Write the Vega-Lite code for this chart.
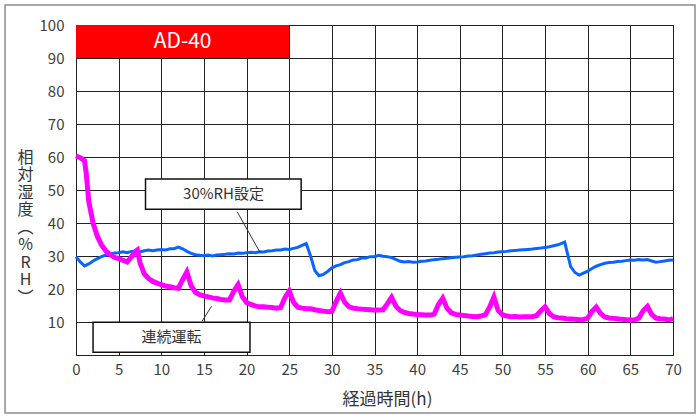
{
"$schema": "https://vega.github.io/schema/vega-lite/v6.json",
"width": 597, "height": 330,
"autosize": {"type": "none"},
"padding": {"left": 76, "top": 25, "right": 27, "bottom": 64},
"background": "white",
"config": {"view": {"stroke": "#222", "strokeWidth": 1}, "font": "Noto Sans CJK JP", "axis": {"labelOverlap": false, "labelFlush": false}},
"datasets": {
"blue": [
{"t":0,"v":29.8},{"t":0.5,"v":28.2},{"t":1,"v":27.0},{"t":1.5,"v":27.6},{"t":2,"v":28.5},{"t":2.5,"v":29.2},{"t":3,"v":29.8},{"t":3.5,"v":30.3},{"t":4,"v":30.6},{"t":4.5,"v":30.9},
{"t":5,"v":31.0},{"t":5.5,"v":31.3},{"t":6,"v":31.0},{"t":6.5,"v":31.4},{"t":7,"v":31.5},{"t":7.5,"v":31.2},{"t":8,"v":31.6},{"t":8.5,"v":31.8},{"t":9,"v":31.6},{"t":9.5,"v":31.8},
{"t":10,"v":32.0},{"t":10.5,"v":31.8},{"t":11,"v":32.2},{"t":11.5,"v":32.2},{"t":12,"v":32.7},{"t":12.5,"v":32.2},{"t":13,"v":31.4},{"t":13.5,"v":30.8},{"t":14,"v":30.4},{"t":14.5,"v":30.2},
{"t":15,"v":30.1},{"t":15.5,"v":30.3},{"t":16,"v":30.0},{"t":16.5,"v":30.3},{"t":17,"v":30.4},{"t":17.5,"v":30.5},{"t":18,"v":30.7},{"t":18.5,"v":30.6},{"t":19,"v":30.9},{"t":19.5,"v":30.8},
{"t":20,"v":31.0},{"t":20.5,"v":31.1},{"t":21,"v":31.0},{"t":21.5,"v":31.3},{"t":22,"v":31.2},{"t":22.5,"v":31.5},{"t":23,"v":31.6},{"t":23.5,"v":31.8},{"t":24,"v":31.8},{"t":24.5,"v":32.1},
{"t":25,"v":32.0},{"t":25.5,"v":32.3},{"t":26,"v":32.6},{"t":26.5,"v":33.2},{"t":27,"v":33.8},{"t":27.5,"v":30.0},{"t":28,"v":25.6},{"t":28.5,"v":24.0},{"t":29,"v":24.4},{"t":29.5,"v":25.3},
{"t":30,"v":26.4},{"t":30.5,"v":27.0},{"t":31,"v":27.4},{"t":31.5,"v":28.0},{"t":32,"v":28.3},{"t":32.5,"v":28.8},{"t":33,"v":28.9},{"t":33.5,"v":29.4},{"t":34,"v":29.4},{"t":34.5,"v":29.8},
{"t":35,"v":29.8},{"t":35.5,"v":30.2},{"t":36,"v":29.9},{"t":36.5,"v":29.8},{"t":37,"v":29.5},{"t":37.5,"v":29.0},{"t":38,"v":28.4},{"t":38.5,"v":28.2},{"t":39,"v":28.3},{"t":39.5,"v":28.1},
{"t":40,"v":28.2},{"t":40.5,"v":28.4},{"t":41,"v":28.5},{"t":41.5,"v":28.7},{"t":42,"v":28.9},{"t":42.5,"v":29.0},{"t":43,"v":29.2},{"t":43.5,"v":29.3},{"t":44,"v":29.5},{"t":44.5,"v":29.6},
{"t":45,"v":29.7},{"t":45.5,"v":29.8},{"t":46,"v":30.0},{"t":46.5,"v":30.1},{"t":47,"v":30.3},{"t":47.5,"v":30.5},{"t":48,"v":30.7},{"t":48.5,"v":30.9},{"t":49,"v":31.0},{"t":49.5,"v":31.2},
{"t":50,"v":31.3},{"t":50.5,"v":31.4},{"t":51,"v":31.6},{"t":51.5,"v":31.7},{"t":52,"v":31.8},{"t":52.5,"v":31.9},{"t":53,"v":32.0},{"t":53.5,"v":32.1},{"t":54,"v":32.3},{"t":54.5,"v":32.4},
{"t":55,"v":32.6},{"t":55.5,"v":32.8},{"t":56,"v":33.1},{"t":56.5,"v":33.4},{"t":57,"v":33.9},{"t":57.3,"v":34.2},{"t":57.6,"v":31.0},{"t":58,"v":26.8},{"t":58.5,"v":25.0},{"t":59,"v":24.2},
{"t":59.5,"v":24.8},{"t":60,"v":25.4},{"t":60.5,"v":26.2},{"t":61,"v":26.9},{"t":61.5,"v":27.4},{"t":62,"v":27.8},{"t":62.5,"v":28.0},{"t":63,"v":28.1},{"t":63.5,"v":28.3},{"t":64,"v":28.4},
{"t":64.5,"v":28.6},{"t":65,"v":28.8},{"t":65.5,"v":28.7},{"t":66,"v":28.9},{"t":66.5,"v":28.8},{"t":67,"v":28.9},{"t":67.5,"v":28.5},{"t":68,"v":28.1},{"t":68.5,"v":28.3},{"t":69,"v":28.5},
{"t":69.5,"v":28.7},{"t":70,"v":28.8}
],
"mag": [
{"t":0,"v":60.3},{"t":0.5,"v":59.8},{"t":1,"v":58.9},{"t":1.2,"v":55.0},{"t":1.5,"v":46.5},{"t":2,"v":40.0},{"t":2.5,"v":36.0},{"t":3,"v":33.3},{"t":3.5,"v":31.6},{"t":4,"v":30.4},
{"t":4.5,"v":29.6},{"t":5,"v":29.2},{"t":5.5,"v":28.7},{"t":6,"v":28.2},{"t":6.5,"v":29.7},{"t":7,"v":31.4},{"t":7.2,"v":31.8},{"t":7.5,"v":28.0},{"t":8,"v":24.6},{"t":8.5,"v":23.2},
{"t":9,"v":22.3},{"t":9.5,"v":21.8},{"t":10,"v":21.3},{"t":10.5,"v":20.9},{"t":11,"v":20.7},{"t":11.5,"v":20.4},{"t":12,"v":20.2},{"t":12.5,"v":22.8},{"t":13,"v":25.2},{"t":13.5,"v":21.0},
{"t":14,"v":19.0},{"t":14.5,"v":18.3},{"t":15,"v":17.9},{"t":15.5,"v":17.6},{"t":16,"v":17.3},{"t":16.5,"v":17.1},{"t":17,"v":16.8},{"t":17.5,"v":16.7},{"t":18,"v":16.7},{"t":18.5,"v":19.3},
{"t":19,"v":21.3},{"t":19.5,"v":17.7},{"t":20,"v":15.9},{"t":20.5,"v":15.3},{"t":21,"v":14.9},{"t":21.5,"v":14.6},{"t":22,"v":14.6},{"t":22.5,"v":14.5},{"t":23,"v":14.4},{"t":23.5,"v":14.2},
{"t":24,"v":14.4},{"t":24.5,"v":17.4},{"t":25,"v":19.4},{"t":25.5,"v":16.0},{"t":26,"v":14.5},{"t":26.5,"v":14.2},{"t":27,"v":14.0},{"t":27.5,"v":14.0},{"t":28,"v":13.7},{"t":28.5,"v":13.5},
{"t":29,"v":13.3},{"t":29.5,"v":13.1},{"t":30,"v":13.2},{"t":30.5,"v":16.2},{"t":31,"v":18.8},{"t":31.5,"v":16.0},{"t":32,"v":14.6},{"t":32.5,"v":14.2},{"t":33,"v":14.0},{"t":33.5,"v":13.9},
{"t":34,"v":13.8},{"t":34.5,"v":13.7},{"t":35,"v":13.6},{"t":35.5,"v":13.6},{"t":36,"v":13.7},{"t":36.5,"v":15.5},{"t":37,"v":17.5},{"t":37.5,"v":14.8},{"t":38,"v":13.5},{"t":38.5,"v":12.9},
{"t":39,"v":12.6},{"t":39.5,"v":12.4},{"t":40,"v":12.3},{"t":40.5,"v":12.2},{"t":41,"v":12.1},{"t":41.5,"v":12.1},{"t":42,"v":12.4},{"t":42.5,"v":15.3},{"t":43,"v":17.2},{"t":43.5,"v":14.2},
{"t":44,"v":12.8},{"t":44.5,"v":12.3},{"t":45,"v":12.1},{"t":45.5,"v":12.0},{"t":46,"v":11.8},{"t":46.5,"v":11.7},{"t":47,"v":11.6},{"t":47.5,"v":11.8},{"t":48,"v":12.2},{"t":48.5,"v":14.5},
{"t":49,"v":17.6},{"t":49.5,"v":13.5},{"t":50,"v":12.2},{"t":50.5,"v":11.8},{"t":51,"v":11.6},{"t":51.5,"v":11.7},{"t":52,"v":11.5},{"t":52.5,"v":11.6},{"t":53,"v":11.6},{"t":53.5,"v":11.7},
{"t":54,"v":11.9},{"t":54.5,"v":13.4},{"t":55,"v":14.6},{"t":55.5,"v":12.6},{"t":56,"v":11.6},{"t":56.5,"v":11.3},{"t":57,"v":11.2},{"t":57.5,"v":11.0},{"t":58,"v":10.9},{"t":58.5,"v":10.8},
{"t":59,"v":10.7},{"t":59.5,"v":10.7},{"t":60,"v":11.2},{"t":60.5,"v":13.2},{"t":61,"v":14.5},{"t":61.5,"v":12.6},{"t":62,"v":11.5},{"t":62.5,"v":11.2},{"t":63,"v":11.1},{"t":63.5,"v":11.0},
{"t":64,"v":10.8},{"t":64.5,"v":10.7},{"t":65,"v":10.6},{"t":65.5,"v":10.6},{"t":66,"v":11.2},{"t":66.5,"v":13.4},{"t":67,"v":14.7},{"t":67.5,"v":12.3},{"t":68,"v":11.2},{"t":68.5,"v":11.0},
{"t":69,"v":10.9},{"t":69.5,"v":10.6},{"t":70,"v":11.0}
],
"frame": [{"x1":-8.32,"x2":72.58,"y1":106.06,"y2":-17.58}],
"band": [{"x1":0,"x2":25,"y1":90,"y2":100,"label":"AD-40","xm":12.5,"ym":95}],
"boxes": [
{"x1":8.15,"x2":26.4,"y1":53.3,"y2":44.2,"label":"30%RH設定","xm":17.3,"ym":48.75},
{"x1":2.0,"x2":20.4,"y1":9.9,"y2":0.8,"label":"連続運転","xm":11.2,"ym":5.35}
],
"leaders": [
{"x1":18.9,"x2":21.6,"y1":43.4,"y2":31.0},
{"x1":14.8,"x2":15.9,"y1":10.3,"y2":14.8}
]
},
"encoding": {
 "x": {"type": "quantitative", "scale": {"domain": [0, 70], "nice": false, "zero": false},
   "axis": {"values": [0,5,10,15,20,25,30,35,40,45,50,55,60,65,70], "grid": true, "gridColor": "#222", "gridWidth": 1, "ticks": false,
    "domainColor": "#222", "labelFontSize": 15, "labelColor": "#404040", "labelPadding": 7, "labelFlush": false, "labelOverlap": false,
    "title": "経過時間(h)", "titleFontSize": 17, "titleFontWeight": "normal", "titleColor": "#333", "titleX": 311, "titleY": 44, "titleBaseline": "middle"}},
 "y": {"type": "quantitative", "scale": {"domain": [0, 100], "nice": false, "zero": false},
   "axis": {"values": [10,20,30,40,50,60,70,80,90,100], "grid": true, "gridColor": "#222", "gridWidth": 1, "ticks": false,
    "domainColor": "#222", "labelFontSize": 15, "labelColor": "#404040", "labelPadding": 12, "labelOverlap": false, "labelFlush": false,
    "title": ["相","対","湿","度","︵","%","R","H","︶"], "titleAngle": 0, "titleFontSize": 16, "titleFontWeight": "normal", "titleColor": "#333",
    "titleLineHeight": 17.5, "titleX": -51, "titleY": 124, "titleBaseline": "top", "titleAlign": "center"}}
},
"layer": [
{"data": {"name": "frame"}, "mark": {"type": "rect", "fill": null, "stroke": "#8c8c8c", "strokeWidth": 1.5},
 "encoding": {"x": {"field": "x1"}, "x2": {"field": "x2"}, "y": {"field": "y1"}, "y2": {"field": "y2"}}},
{"data": {"name": "band"}, "mark": {"type": "rect", "fill": "#ff0000"},
 "encoding": {"x": {"field": "x1"}, "x2": {"field": "x2"}, "y": {"field": "y1"}, "y2": {"field": "y2"}}},
{"data": {"name": "band"}, "mark": {"type": "text", "color": "white", "fontSize": 21, "align": "center", "baseline": "middle"},
 "encoding": {"x": {"field": "xm"}, "y": {"field": "ym"}, "text": {"field": "label"}}},
{"data": {"name": "blue"}, "mark": {"type": "line", "color": "#0a64ff", "strokeWidth": 3},
 "encoding": {"x": {"field": "t"}, "y": {"field": "v"}}},
{"data": {"name": "mag"}, "mark": {"type": "line", "color": "#ff00ff", "strokeWidth": 5},
 "encoding": {"x": {"field": "t"}, "y": {"field": "v"}}},
{"data": {"name": "leaders"}, "mark": {"type": "rule", "color": "#333", "strokeWidth": 1},
 "encoding": {"x": {"field": "x1"}, "x2": {"field": "x2"}, "y": {"field": "y1"}, "y2": {"field": "y2"}}},
{"data": {"name": "boxes"}, "mark": {"type": "rect", "fill": "white", "stroke": "#111", "strokeWidth": 1.5},
 "encoding": {"x": {"field": "x1"}, "x2": {"field": "x2"}, "y": {"field": "y1"}, "y2": {"field": "y2"}}},
{"data": {"name": "boxes"}, "mark": {"type": "text", "color": "#333", "fontSize": 15, "align": "center", "baseline": "middle"},
 "encoding": {"x": {"field": "xm"}, "y": {"field": "ym"}, "text": {"field": "label"}}}
]
}
